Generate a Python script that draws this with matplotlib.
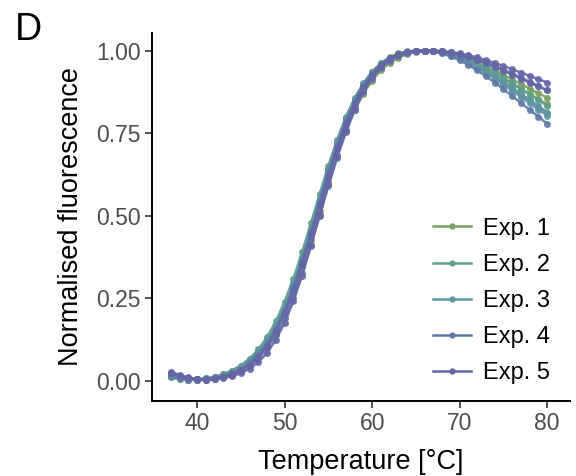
import matplotlib
matplotlib.use("Agg")
import matplotlib.pyplot as plt
from matplotlib.lines import Line2D

plt.rcParams['font.family'] = ['Liberation Sans', 'DejaVu Sans']

temperature = list(range(37, 81))

exp1_a = [.012,.006,.003,.003,.005,.009,.016,.026,.040,.058,.082,.113,.155,.207,.270,.345,.428,.515,.602,.684,.757,.820,.870,.910,.941,.963,.979,.990,.996,.999,1.000,.998,.993,.986,.977,.966,.954,.941,.927,.913,.899,.885,.871,.858]
exp1_b = [.020,.012,.006,.003,.003,.006,.011,.019,.031,.048,.073,.107,.152,.210,.281,.364,.455,.548,.638,.720,.792,.852,.900,.937,.963,.981,.992,.998,1.000,1.000,.999,.996,.990,.982,.972,.960,.947,.932,.917,.901,.885,.869,.853,.838]
exp2_a = [.010,.005,.003,.004,.007,.012,.020,.031,.046,.066,.092,.126,.170,.225,.291,.367,.451,.540,.627,.708,.779,.838,.885,.922,.950,.970,.984,.993,.998,1.000,.999,.995,.988,.978,.966,.952,.937,.920,.903,.885,.867,.849,.831,.813]
exp2_b = [.018,.010,.005,.004,.007,.012,.020,.031,.046,.067,.095,.133,.181,.240,.310,.390,.477,.566,.652,.731,.800,.857,.902,.937,.962,.979,.990,.997,1.000,1.000,1.000,.997,.991,.983,.973,.961,.948,.933,.917,.901,.884,.867,.850,.833]
exp3_a = [.015,.008,.004,.003,.005,.009,.016,.026,.040,.059,.085,.119,.163,.219,.287,.366,.453,.544,.633,.715,.786,.845,.892,.928,.955,.974,.987,.995,.999,1.000,.998,.993,.985,.975,.963,.949,.933,.916,.898,.879,.860,.841,.822,.803]
exp3_b = [.022,.013,.007,.004,.006,.010,.017,.027,.041,.060,.086,.121,.167,.225,.295,.376,.464,.555,.643,.724,.795,.854,.900,.935,.961,.979,.991,.997,1.000,1.000,.999,.995,.988,.979,.968,.955,.940,.924,.907,.889,.870,.851,.832,.813]
exp4_a = [.014,.007,.003,.002,.003,.006,.011,.019,.030,.046,.068,.098,.138,.189,.252,.327,.411,.500,.590,.676,.753,.820,.874,.916,.948,.970,.985,.994,.999,1.000,.998,.992,.983,.971,.957,.941,.923,.904,.884,.863,.842,.821,.800,.779]
exp4_b = [.025,.015,.008,.004,.004,.008,.014,.023,.036,.054,.079,.113,.158,.215,.284,.364,.452,.543,.632,.714,.786,.846,.894,.931,.958,.977,.989,.996,.999,1.000,1.000,.998,.995,.990,.983,.975,.965,.954,.943,.931,.919,.906,.893,.880]
exp5_a = [.028,.018,.010,.005,.002,.004,.008,.014,.023,.037,.057,.085,.124,.176,.241,.319,.408,.502,.595,.682,.760,.826,.879,.920,.951,.972,.986,.995,.999,1.000,1.000,.999,.996,.992,.987,.980,.972,.963,.954,.944,.934,.924,.914,.904]
exp5_b = [.024,.015,.008,.004,.004,.007,.012,.020,.032,.049,.073,.106,.150,.206,.274,.353,.441,.532,.622,.706,.779,.841,.890,.928,.957,.977,.990,.997,1.000,1.000,1.000,.998,.994,.988,.981,.972,.962,.951,.940,.928,.916,.904,.892,.880]

labels = ["Exp. 1", "Exp. 2", "Exp. 3", "Exp. 4", "Exp. 5"]
series = [(exp1_a, exp1_b), (exp2_a, exp2_b), (exp3_a, exp3_b), (exp4_a, exp4_b), (exp5_a, exp5_b)]
colors = ["#79a060", "#5fa08c", "#5f95a3", "#607aa6", "#6465a6"]

x_ticks = [40, 50, 60, 70, 80]
y_ticks = [0.00, 0.25, 0.50, 0.75, 1.00]
y_ticklabels = ["0.00", "0.25", "0.50", "0.75", "1.00"]

fig = plt.figure(figsize=(5.76, 4.76), dpi=100)
ax = fig.add_axes([0.264, 0.158, 0.726, 0.773])

for (ra, rb), c in zip(series, colors):
    for r in (ra, rb):
        ax.plot(temperature, r, color=c, lw=1.8, alpha=0.9, zorder=2)
        ax.plot(temperature, r, 'o', color=c, ms=5, alpha=0.9, zorder=2, markeredgewidth=0)

ax.set_xlim(34.86, 82.63)
ax.set_ylim(-0.0606, 1.0545)
ax.set_xticks(x_ticks)
ax.set_yticks(y_ticks)
ax.set_yticklabels(y_ticklabels)
for s in ['top', 'right']:
    ax.spines[s].set_visible(False)
for s in ['left', 'bottom']:
    ax.spines[s].set_linewidth(1.4)
    ax.spines[s].set_color('black')
ax.tick_params(axis='both', length=5, width=1.2, color='#333333', labelcolor='#4d4d4d', labelsize=16.5, pad=3)

ax.set_xlabel("Temperature [°C]", fontsize=19.5, color='black', labelpad=10)
ax.set_ylabel("Normalised fluorescence", fontsize=19.5, color='black', labelpad=9)

handles = [Line2D([0], [0], color=c, lw=1.8, marker='o', ms=4.5, markeredgewidth=0) for c in colors]
ax.legend(handles, labels, loc='lower right', bbox_to_anchor=(0.99, 0.0), frameon=False,
          fontsize=17, handlelength=1.6, labelspacing=0.6, borderaxespad=0.3, handletextpad=0.5)

fig.text(0.025, 0.975, "D", fontsize=27, va='top', ha='left')

fig.savefig("out.png", dpi=100)
